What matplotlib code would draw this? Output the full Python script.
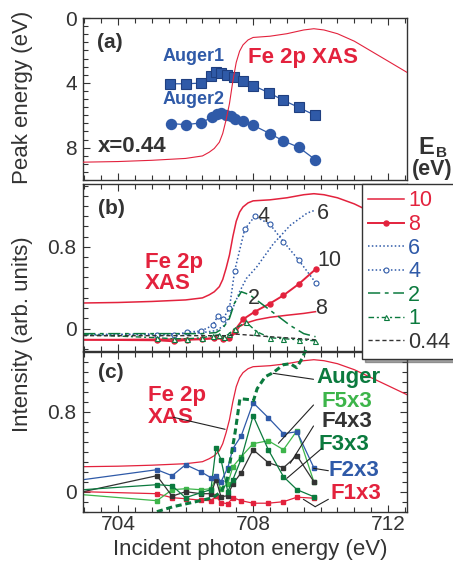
import matplotlib
matplotlib.use("Agg")
import matplotlib.pyplot as plt
from matplotlib.ticker import MultipleLocator, FuncFormatter

plt.rcParams['font.family'] = ['Liberation Sans', 'DejaVu Sans']

RED = '#e3223d'
BLUE = '#2f5aa8'
NAVY = '#1f3f80'
DKGREEN = '#0b7a3e'
LTGREEN = '#3db54a'
GRAY = '#333333'

# ---- Fe 2p XAS (shared by all panels, arb. units) ----
xas_e = [702.96, 704.0, 705.0, 706.0, 706.5, 706.7, 706.85, 707.0, 707.1, 707.2,
         707.3, 707.4, 707.5, 707.6, 707.7, 707.85, 708.0, 708.5, 709.0, 709.5,
         709.8, 710.1, 710.5, 711.0, 711.5, 712.0, 712.56]
xas_i = [0.25, 0.255, 0.265, 0.28, 0.30, 0.33, 0.36, 0.41, 0.48, 0.59,
         0.72, 0.90, 1.05, 1.14, 1.19, 1.23, 1.25, 1.26, 1.28, 1.31,
         1.32, 1.31, 1.28, 1.22, 1.14, 1.06, 0.97]

# ---- (a) peak energies ----
aug1_e = [705.54, 706.01, 706.45, 706.76, 706.89, 707.05, 707.22, 707.44, 707.69,
          708.01, 708.48, 708.88, 709.35, 709.84]
aug1_eb = [4.06, 4.06, 4.02, 3.57, 3.34, 3.40, 3.51, 3.65, 3.88,
           4.17, 4.63, 5.06, 5.52, 6.01]
aug2_e = [705.56, 706.01, 706.45, 706.79, 706.92, 707.05, 707.20, 707.34, 707.45,
          707.69, 708.01, 708.50, 708.88, 709.35, 709.84]
aug2_eb = [6.52, 6.58, 6.48, 6.11, 5.91, 5.86, 5.97, 6.07, 6.22,
           6.34, 6.63, 7.14, 7.57, 7.98, 8.74]

# ---- (b) CIS spectra for each binding energy ----
red_plain_e = [702.96, 707.3, 707.45, 707.6, 707.8, 708.1, 708.5, 709.0, 709.5, 709.85]
red_plain_i = [-0.11, -0.10, -0.05, 0.02, 0.055, 0.085, 0.11, 0.13, 0.148, 0.165]
red_dot_e = [702.96, 705.15, 705.65, 706.05, 706.5, 706.85, 707.1, 707.3, 707.45,
             707.7, 708.05, 708.5, 708.9, 709.35, 709.85]
red_dot_i = [-0.11, -0.115, -0.125, -0.11, -0.105, -0.09, -0.10, -0.09, -0.02,
             0.09, 0.165, 0.245, 0.325, 0.435, 0.58]
blue_plain_e = [702.96, 706.0, 706.5, 706.9, 707.15, 707.3, 707.45, 707.6, 707.8,
                708.1, 708.6, 709.1, 709.6, 709.85]
blue_plain_i = [-0.06, -0.05, -0.04, -0.02, 0.03, 0.12, 0.24, 0.36, 0.49,
                0.60, 0.83, 1.01, 1.13, 1.16]
blue_circ_e = [702.96, 705.15, 705.65, 706.05, 706.45, 706.8, 706.95, 707.1, 707.3,
               707.45, 707.75, 708.05, 708.5, 708.9, 709.35, 709.85]
blue_circ_i = [-0.06, -0.06, -0.065, -0.035, -0.025, 0.03, 0.12, 0.09, 0.20,
               0.56, 0.97, 1.10, 1.02, 0.85, 0.67, 0.45]
green_dash_e = [702.96, 706.5, 706.9, 707.1, 707.3, 707.45, 707.65, 707.9, 708.3,
                708.7, 709.1, 709.5, 709.85]
green_dash_i = [-0.05, -0.05, -0.04, 0.0, 0.10, 0.25, 0.36, 0.33, 0.23,
                0.13, 0.03, -0.05, -0.08]
green_tri_e = [702.96, 705.15, 705.65, 706.05, 706.5, 706.8, 707.0, 707.15, 707.3,
               707.45, 707.8, 708.1, 708.5, 708.9, 709.35, 709.84]
green_tri_i = [-0.06, -0.09, -0.10, -0.10, -0.09, -0.07, -0.06, -0.08, -0.05,
               0.0, 0.06, -0.03, -0.09, -0.10, -0.11, -0.12]
black_e = [702.96, 707.3, 707.5, 708.5, 709.85]
black_i = [-0.07, -0.07, -0.055, -0.08, -0.11]
legend_labels = ['10', '8', '6', '4', '2', '1', '0.44']

# ---- (c) Auger intensity and fitted components ----
auger_e = [705.15, 705.63, 706.43, 706.81, 707.05, 707.23, 707.37, 707.47, 707.61,
           707.91, 708.01, 708.12, 708.36, 708.59, 708.90, 709.10, 709.29, 709.45, 709.6]
auger_i = [-0.20, -0.15, -0.09, -0.06, 0.0, 0.12, 0.40, 0.60, 0.93,
           0.92, 0.91, 1.03, 1.15, 1.19, 1.27, 1.28, 1.24, 1.33, 1.45]
fit_e = [702.96, 705.15, 705.6, 706.0, 706.45, 706.75, 706.9, 707.05, 707.25,
         707.4, 707.65, 708.0, 708.45, 708.9, 709.3, 709.8]
f1 = [0.0, -0.02, -0.06, -0.07, -0.085, -0.09, -0.045, -0.11, -0.12,
      -0.06, -0.09, -0.115, -0.115, -0.10, -0.055, -0.065]
f2 = [0.12, 0.22, 0.16, 0.27, 0.20, 0.14, 0.16, 0.10, 0.24,
      0.43, 0.56, 0.89, 0.74, 0.58, 0.60, 0.24]
f3 = [0.02, 0.07, 0.06, -0.06, -0.01, 0.02, 0.44, 0.32, 0.0,
      0.12, 0.33, 0.76, 0.42, 0.15, 0.02, -0.05]
f4 = [0.0, 0.16, -0.045, 0.0, -0.02, -0.02, 0.12, -0.05, -0.04,
      0.08, 0.19, 0.42, 0.29, 0.24, 0.36, 0.10]
f5 = [-0.03, -0.09, 0.02, 0.03, 0.02, 0.03, 0.13, 0.03, 0.08,
      0.25, 0.35, 0.48, 0.51, 0.42, 0.61, 0.10]

fig = plt.figure(figsize=(4.53, 5.62), dpi=100)
L, W = 83 / 453, 324 / 453


def px_axes(top, bottom):
    return fig.add_axes([L, 1 - bottom / 562, W, (bottom - top) / 562])


def style(ax, ymajor, yminor):
    ax.set_xlim(702.96, 712.56)
    ax.xaxis.set_major_locator(MultipleLocator(4))
    ax.xaxis.set_minor_locator(MultipleLocator(0.5))
    ax.yaxis.set_major_locator(MultipleLocator(ymajor))
    ax.yaxis.set_minor_locator(MultipleLocator(yminor))
    ax.tick_params(which='both', direction='in', top=True, right=True,
                   colors=GRAY, labelsize=15, width=0.8, pad=4.5)
    ax.tick_params(axis='x', pad=2.5)
    ax.tick_params(which='major', length=5)
    ax.tick_params(which='minor', length=3.5)
    for s in ax.spines.values():
        s.set_color(GRAY)
        s.set_linewidth(1.0)


fmt = FuncFormatter(lambda v, p: '0' if abs(v) < 1e-9 else f'{v:g}')

# ---------------- (a) ----------------
ax_a = px_axes(18, 180)
style(ax_a, 4, 0.5)
ax_a.set_ylim(10, 0)
ax_a.tick_params(labelbottom=False)
ax_a.plot(aug1_e, aug1_eb, '-', color=BLUE, lw=0.9, marker='s', ms=6.8,
          mfc=BLUE, mec=NAVY, mew=0.8)
ax_a.plot(aug2_e, aug2_eb, '-', color=BLUE, lw=0.9, marker='o', ms=7.2,
          mfc=BLUE, mec=BLUE)
ax_a2 = ax_a.twinx()
ax_a2.set_ylim(0.107, 1.406)
ax_a2.axis('off')
ax_a2.plot(xas_e, xas_i, color=RED, lw=0.8)
ax_a.text(703.38, 1.54, '(a)', fontsize=15, fontweight='bold', color=GRAY, va='center')
ax_a.text(705.33, 2.4, 'Auger1', fontsize=13, fontweight='bold', color=BLUE, va='center')
ax_a.text(705.33, 5.05, 'Auger2', fontsize=13, fontweight='bold', color=BLUE, va='center')
ax_a.text(707.85, 2.46, 'Fe 2p XAS', fontsize=16, fontweight='bold', color=RED, va='center')
ax_a.text(703.41, 7.94, 'x=0.44', fontsize=16, fontweight='bold', color=GRAY, va='center')

# ---------------- (b) ----------------
ax_b = px_axes(184, 351)
style(ax_b, 0.8, 0.1)
ax_b.set_ylim(-0.22, 1.415)
ax_b.yaxis.set_major_formatter(fmt)
ax_b.tick_params(labelbottom=False)
ax_b.plot(xas_e, xas_i, color=RED, lw=1.1)
l10, = ax_b.plot(red_plain_e, red_plain_i, '-', color=RED, lw=1.1)
l8, = ax_b.plot(red_dot_e, red_dot_i, '-', color=RED, lw=1.4, marker='o', ms=3.6,
                markevery=slice(1, None))
l6, = ax_b.plot(blue_plain_e, blue_plain_i, color=BLUE, lw=1.1, ls=(0, (1, 1.5)))
l4, = ax_b.plot(blue_circ_e, blue_circ_i, color=BLUE, lw=1.1, ls=(0, (1, 1.5)),
                marker='o', ms=3.6, mfc='white', mec=BLUE, mew=0.8,
                markevery=slice(1, None))
l2, = ax_b.plot(green_dash_e, green_dash_i, color=DKGREEN, lw=1.1, ls=(0, (8, 3, 2.5, 3)))
l1, = ax_b.plot(green_tri_e, green_tri_i, color=DKGREEN, lw=1.0, ls=(0, (4, 2, 1.5, 2)),
                marker='^', ms=3.6, mfc='white', mec=DKGREEN, mew=0.8,
                markevery=slice(1, None))
l044, = ax_b.plot(black_e, black_i, color=GRAY, lw=1.0, ls=(0, (3, 2)))
ax_b.text(703.41, 1.18, '(b)', fontsize=15, fontweight='bold', color=GRAY, va='center')
ax_b.text(704.8, 0.544, 'Fe 2p\nXAS', fontsize=16, fontweight='bold', color=RED,
          va='center', linespacing=1.05)
for s, x, y in [('4', 708.12, 1.094), ('6', 709.9, 1.127), ('10', 709.9, 0.67),
                ('2', 707.85, 0.297), ('8', 709.84, 0.2)]:
    ax_b.text(x, y, s, fontsize=15.5, color=GRAY, va='center')

leg = fig.legend([l10, l8, l6, l4, l2, l1, l044], legend_labels,
                 loc='upper left', bbox_to_anchor=(362 / 453, 1 - 184 / 562, 0.4, 0.0),
                 mode='expand', borderaxespad=0, fontsize=15.5, handlelength=1.65,
                 handletextpad=0.2, labelspacing=0.12, borderpad=0.3,
                 fancybox=False, shadow=True, framealpha=1)
leg.get_frame().set_edgecolor(GRAY)
leg.get_frame().set_linewidth(1.0)
for t, c in zip(leg.get_texts(), [RED, RED, BLUE, BLUE, DKGREEN, DKGREEN, GRAY]):
    t.set_color(c)

# ---------------- (c) ----------------
ax_c = px_axes(352, 511.7)
style(ax_c, 0.8, 0.1)
ax_c.set_ylim(-0.2, 1.397)
ax_c.yaxis.set_major_formatter(fmt)
ax_c.plot(xas_e, xas_i, color=RED, lw=0.9)
for vals, col in [(f1, RED), (f5, LTGREEN), (f4, GRAY), (f3, DKGREEN), (f2, BLUE)]:
    ax_c.plot(fit_e, vals, '-', color=col, lw=0.9, marker='s', ms=2.2,
              markevery=slice(1, None))
ax_c.plot(auger_e, auger_i, color=DKGREEN, lw=2.2, ls=(0, (2, 1.2)), clip_on=False)
ax_c.text(703.41, 1.187, '(c)', fontsize=15, fontweight='bold', color=GRAY, va='center')
ax_c.text(704.89, 0.852, 'Fe 2p\nXAS', fontsize=16, fontweight='bold', color=RED,
          va='center', linespacing=1.05)
for s, x, y, c in [('Auger', 709.87, 1.137, DKGREEN), ('F5x3', 710.04, 0.90, LTGREEN),
                   ('F4x3', 710.04, 0.70, GRAY), ('F3x3', 709.93, 0.467, DKGREEN),
                   ('F2x3', 710.22, 0.217, BLUE), ('F1x3', 710.28, -0.016, RED)]:
    ax_c.text(x, y, s, fontsize=16, fontweight='bold', color=c, va='center')

# leader lines from labels to curves
leaders = [((709.79, 1.124), (708.59, 1.184)),
           ((707.17, 0.624), (705.64, 0.744)),
           ((709.79, 0.867), (708.75, 0.484)),
           ((709.79, 0.657), (709.10, 0.284)),
           ((710.04, 0.434), (709.00, 0.134)),
           ((710.23, 0.21), (709.79, 0.234)),
           ((709.84, -0.15), (709.49, -0.076)),
           ((709.84, -0.15), (710.23, -0.076))]
for a, b in leaders:
    ax_c.annotate('', xy=a, xytext=b, annotation_clip=False,
                  arrowprops=dict(arrowstyle='-', color='#222222', lw=0.8,
                                  shrinkA=0, shrinkB=0))

# axis titles
fig.text(23 / 453, 1 - 97 / 562, 'Peak energy (eV)', rotation=90, fontsize=16,
         color=GRAY, ha='center', va='center')
fig.text(23 / 453, 1 - 334 / 562, 'Intensity (arb. units)', rotation=90, fontsize=16,
         color=GRAY, ha='center', va='center')
fig.text(250 / 453, 1 - 549 / 562, 'Incident photon energy (eV)', fontsize=16,
         color=GRAY, ha='center', va='center')
fig.text(418 / 453, 1 - 147 / 562, 'E', fontsize=17, fontweight='bold', color=GRAY,
         ha='left', va='center')
fig.text(436 / 453, 1 - 153 / 562, 'B', fontsize=11, fontweight='bold', color=GRAY,
         ha='left', va='center')
fig.text(412 / 453, 1 - 170 / 562, '(eV)', fontsize=15.5, fontweight='bold', color=GRAY,
         ha='left', va='center')

fig.savefig('out.png', dpi=100)
